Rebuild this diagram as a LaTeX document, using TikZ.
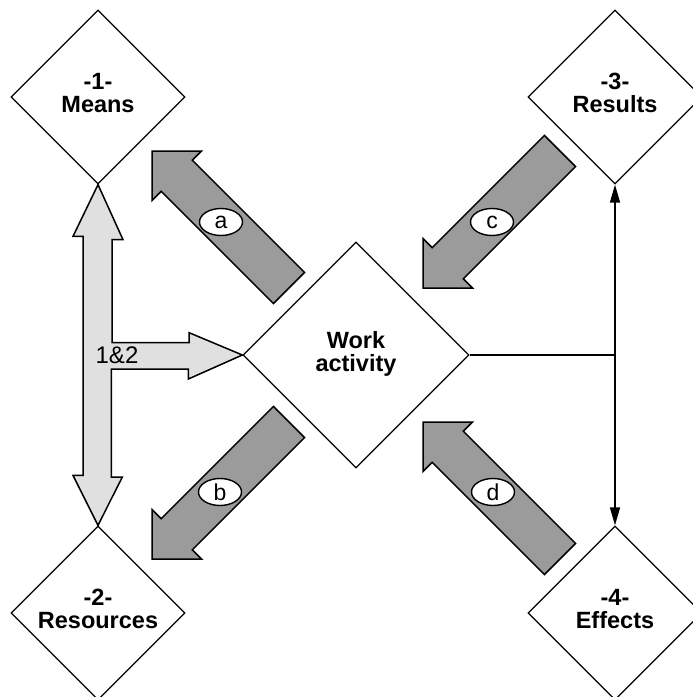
\documentclass[tikz,border=0pt]{standalone}
\usepackage{fontspec}
\setmainfont{Liberation Sans}
\usetikzlibrary{shapes.geometric,calc,arrows.meta}

\definecolor{shaftlight}{RGB}{224,224,224}
\definecolor{shaftdark}{RGB}{155,155,155}

\tikzset{
  box/.style={diamond, draw, line width=1.3pt, fill=white, inner sep=0pt,
    minimum width=174pt, minimum height=174pt},
  bigbox/.style={box, minimum width=226pt, minimum height=226pt},
  boxtext/.style={align=center, font=\fontsize{23.5}{23.5}\selectfont\bfseries, inner sep=0pt},
  lightarrow/.style={draw, line width=1.5pt, fill=shaftlight, line join=miter},
  darkarrow/.style={draw, line width=1.5pt, fill=shaftdark, line join=miter},
  tag/.style={ellipse, draw, line width=1.4pt, fill=white, minimum width=43pt,
    minimum height=27pt, inner sep=0pt, font=\fontsize{23}{23}\selectfont},
  link/.style={line width=1.5pt},
  biarrow/.style={line width=1.5pt, {Triangle[length=18pt,width=10pt]}-{Triangle[length=18pt,width=10pt]}}
}

% block arrow from #1 (tail) to #2 (tip)
\newcommand\blockarr[3]{%
  \coordinate (#3-base) at ($(#2)!35pt!(#1)$);
  \draw[darkarrow]
    ($(#1)!22pt!90:(#2)$) -- ($(#3-base)!22pt!-90:(#1)$) --
    ($(#3-base)!35pt!-90:(#1)$) -- (#2) --
    ($(#3-base)!35pt!90:(#1)$) -- ($(#3-base)!22pt!90:(#1)$) --
    ($(#1)!22pt!-90:(#2)$) -- cycle;}

\begin{document}
\begin{tikzpicture}[x=1pt, y=-1pt]
  \useasboundingbox (0,0) rectangle (693,697);
  \clip (0,0) rectangle (693,697);

  % the five diamonds
  \node[box] (means) at (98,97) {};
  \node[box] (resources) at (98,613) {};
  \node[box] (results) at (615,97) {};
  \node[box] (effects) at (615,613) {};
  \node[bigbox] (work) at (356,355) {};

  \node[boxtext] (meansT) at ([yshift=4pt]means.center) {-1-\\Means};
  \node[boxtext] (resourcesT) at ([yshift=4pt]resources.center) {-2-\\Resources};
  \node[boxtext] (resultsT) at ([yshift=4pt]results.center) {-3-\\Results};
  \node[boxtext] (effectsT) at ([yshift=4pt]effects.center) {-4-\\Effects};
  \node[boxtext] (workT) at ([yshift=1pt]work.center) {Work\\activity};

  % light double arrow with branch into the work activity
  \draw[lightarrow] (means.south) -- ++(25,55) -- ++(-11,0) -- ++(0,103)
    -- ++(77,0) -- ++(0,-10) -- (work.west) -- ++(-54,24) -- ++(0,-10)
    -- ++(-77,0) -- ++(0,108) -- ++(11,0) -- (resources.north)
    -- ++(-25,-50) -- ++(10,0) -- ++(0,-239) -- ++(-10,0) -- cycle;
  \node[font=\fontsize{24}{24}\selectfont, inner sep=0pt] (joint) at (117,355) {1\&2};

  % dark block arrows around the work activity
  \coordinate (aTail) at ($(work.center)+(-67,-67)$);
  \coordinate (aTip)  at ($(work.center)+(-204,-204)$);
  \coordinate (bTail) at ($(work.center)+(-67,67)$);
  \coordinate (bTip)  at ($(work.center)+(-204,204)$);
  \coordinate (cTail) at ($(work.center)+(204,-204)$);
  \coordinate (cTip)  at ($(work.center)+(67,-67)$);
  \coordinate (dTail) at ($(work.center)+(204,204)$);
  \coordinate (dTip)  at ($(work.center)+(67,67)$);
  \blockarr{aTail}{aTip}{arrA}
  \blockarr{bTail}{bTip}{arrB}
  \blockarr{cTail}{cTip}{arrC}
  \blockarr{dTail}{dTip}{arrD}

  \node[tag] (tagA) at ($(work.center)+(-135,-133)$) {a};
  \node[tag] (tagB) at ($(work.center)+(-136,137)$) {b};
  \node[tag] (tagC) at ($(work.center)+(136,-133)$) {c};
  \node[tag] (tagD) at ($(work.center)+(137,137)$) {d};

  % link from the work activity to results and effects
  \coordinate (fork) at (work.east -| results.south);
  \draw[link] (work.east) -- (fork);
  \draw[biarrow] (results.south) -- (effects.north);
\end{tikzpicture}
\end{document}
